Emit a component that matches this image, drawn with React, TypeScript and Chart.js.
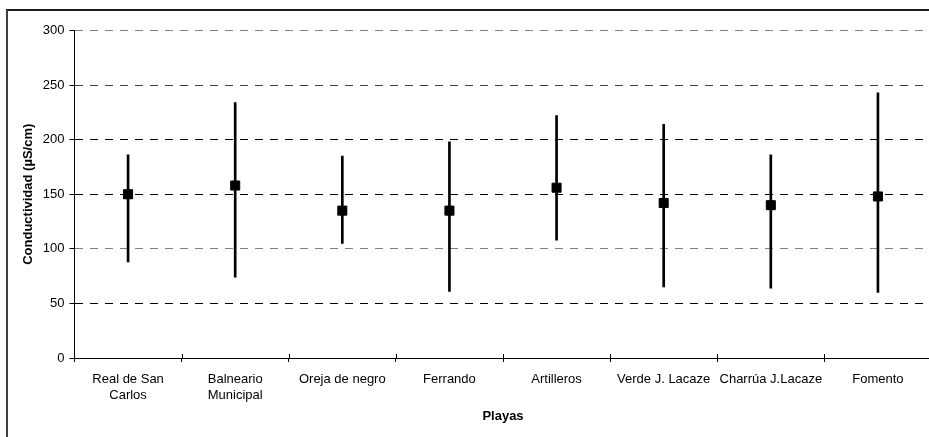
import React, { useEffect, useRef } from "react";
import { Chart, registerables } from "chart.js";

Chart.register(...registerables);

const categories: (string | string[])[] = [
  ["Real de San", "Carlos"],
  ["Balneario", "Municipal"],
  "Oreja de negro",
  "Ferrando",
  "Artilleros",
  "Verde J. Lacaze",
  "Charrúa J.Lacaze",
  "Fomento",
];
const means = [150, 158, 135, 135, 156, 142, 140, 148];
const highs = [186, 234, 185, 198, 222, 214, 186, 243];
const lows = [88, 74, 105, 61, 108, 65, 64, 60];
const yTicks = [0, 50, 100, 150, 200, 250, 300];

const FONT = "'Liberation Sans', Arial, sans-serif";

const crossTicks = {
  id: "crossTicks",
  afterDraw(chart: any) {
    const x = chart.scales.x;
    const ctx = chart.ctx;
    const bottom = chart.chartArea.bottom;
    ctx.save();
    ctx.setLineDash([]);
    ctx.strokeStyle = "#000";
    ctx.lineWidth = 1;
    ctx.beginPath();
    for (let i = 1; i < categories.length; i++) {
      const px = Math.round((x.getPixelForValue(i - 1) + x.getPixelForValue(i)) / 2) + 0.5;
      ctx.moveTo(px, bottom - 4);
      ctx.lineTo(px, bottom);
    }
    ctx.stroke();
    ctx.restore();
  },
};

export default function App() {
  const ref = useRef<HTMLCanvasElement | null>(null);
  useEffect(() => {
    if (!ref.current) return;
    const chart = new Chart(ref.current, {
      type: "bar",
      data: {
        labels: categories as any,
        datasets: [
          {
            type: "line",
            label: "Media",
            data: means,
            showLine: false,
            pointStyle: "rect",
            pointRadius: 6.4,
            pointBorderWidth: 1,
            pointBackgroundColor: "#000",
            pointBorderColor: "#000",
            order: 0,
          } as any,
          {
            type: "bar",
            label: "Rango",
            data: lows.map((l, i) => [l, highs[i]]),
            backgroundColor: "#000",
            borderWidth: 0,
            barThickness: 2,
            grouped: false,
            order: 1,
          } as any,
        ],
      },
      options: {
        responsive: false,
        animation: false,
        layout: { padding: { top: 30.5, right: 8.5, left: 0, bottom: 0 } },
        plugins: { legend: { display: false }, tooltip: { enabled: false } },
        scales: {
          x: {
            offset: true,
            grid: {
              display: true,
              drawOnChartArea: false,
              offset: true,
              tickLength: 4,
              color: "#000",
            },
            border: { display: true, color: "#000", width: 1 },
            ticks: {
              color: "#000",
              font: { family: FONT, size: 13 },
              padding: 10,
              maxRotation: 0,
              autoSkip: false,
            },
            title: {
              display: true,
              text: "Playas",
              color: "#000",
              font: { family: FONT, size: 13, weight: "bold" },
              padding: { top: 13, bottom: 13 },
            },
            afterFit: (s: any) => {
              s.height = 79;
            },
          },
          y: {
            min: 0,
            max: 300,
            afterBuildTicks: (s: any) => {
              s.ticks = yTicks.map((v) => ({ value: v }));
            },
            grid: {
              color: (c: any) => {
                const v = c.tick ? c.tick.value : 0;
                if (v === 300 || v === 100) return "#808080";
                if (v === 250) return "#404040";
                return "#000";
              },
              tickColor: "#000",
              tickBorderDash: [],
              tickLength: 5,
              lineWidth: 1,
            },
            border: { display: true, color: "#000", width: 1, dash: [8, 7] },
            ticks: {
              color: "#000",
              font: { family: FONT, size: 13 },
              padding: 5,
            },
            title: {
              display: true,
              text: "Conductividad (µS/cm)",
              color: "#000",
              font: { family: FONT, size: 13, weight: "bold" },
              padding: { top: 21, bottom: 0 },
            },
            afterFit: (s: any) => {
              s.width = 74.5;
            },
          },
        },
      },
      plugins: [crossTicks],
    });
    return () => chart.destroy();
  }, []);

  return (
    <div
      style={{
        position: "fixed",
        left: 0,
        top: 0,
        width: 929,
        height: 437,
        overflow: "hidden",
        background: "#fff",
      }}
    >
      <div
        style={{
          position: "absolute",
          left: 6,
          top: 9,
          width: 1000,
          height: 1000,
          borderLeft: "2px solid #404040",
          borderTop: "2px solid #1a1a1a",
          boxSizing: "border-box",
        }}
      />
      <canvas
        ref={ref}
        width={940}
        height={437}
        style={{ position: "absolute", left: 0, top: 0, width: 940, height: 437 }}
      />
    </div>
  );
}
